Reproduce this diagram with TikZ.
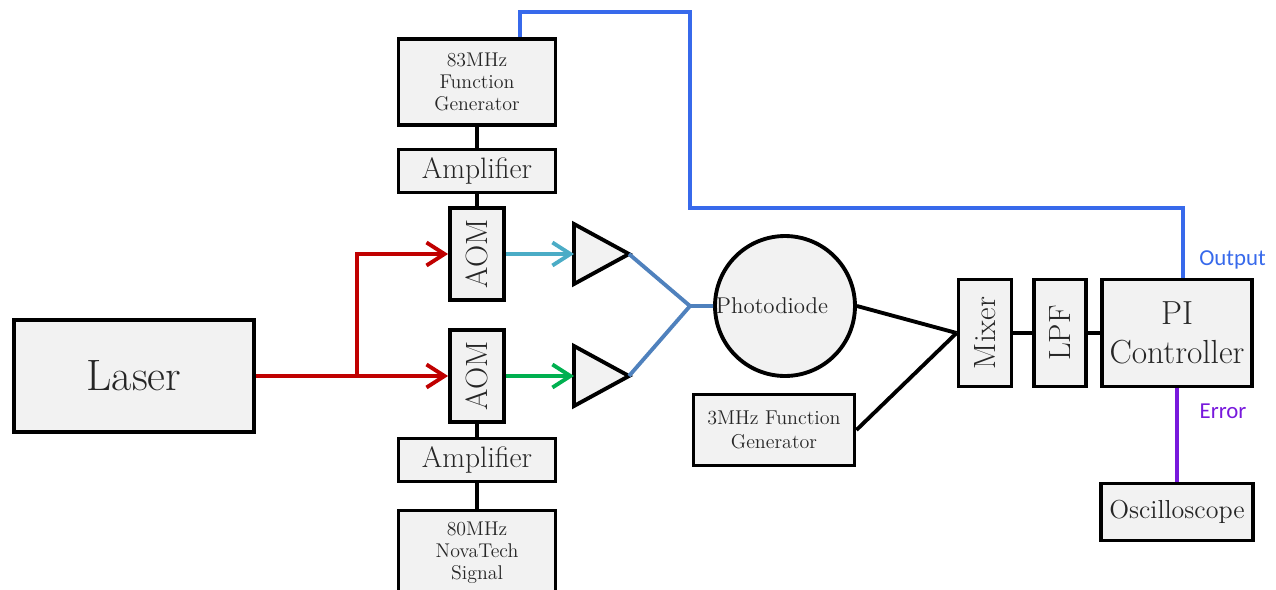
\documentclass[tikz,border=0pt]{standalone}
\usepackage{fontspec}
\newfontfamily\labelfont{Carlito}
\usetikzlibrary{arrows.meta,shapes.geometric,shadows,positioning}

\definecolor{beamred}{RGB}{192,0,0}
\definecolor{beamcyan}{RGB}{75,172,198}
\definecolor{beamgreen}{RGB}{0,176,80}
\definecolor{steel}{RGB}{79,129,189}
\definecolor{outblue}{RGB}{55,105,235}
\definecolor{errpurple}{RGB}{120,25,220}
\definecolor{boxfill}{RGB}{242,242,242}

\begin{document}
\begin{tikzpicture}[x=0.02cm,y=-0.02cm]
        \tikzstyle{box}=[draw=black,line width=2.2pt,fill=boxfill,inner sep=1pt,align=center,text=black!85,
          drop shadow={opacity=0.2,shadow xshift=0.6pt,shadow yshift=-0.6pt}]
        \tikzstyle{wire}=[line width=2.2pt]
        \tikzstyle{beam}=[line width=2.2pt,-{Straight Barb[length=0.36cm,width=0.46cm,line width=2.2pt]}]
        \tikzstyle{tri}=[isosceles triangle,isosceles triangle stretches,draw=black,line width=2.2pt,fill=boxfill,
          minimum width=1.2cm,minimum height=1.1cm,inner sep=0pt,outer sep=0pt]
        \useasboundingbox (0,0) rectangle (1276,589);
        % left column
        \node[box,minimum width=4.8cm,minimum height=2.24cm,font=\fontsize{25}{28}\selectfont] (laser) at (134,376) {Laser};
        \node[box,minimum width=3.14cm,minimum height=1.72cm,font=\fontsize{11.3}{12.6}\selectfont] (fg83) at (477,82) {83MHz\\Function\\Generator};
        \node[box,minimum width=3.14cm,minimum height=0.86cm,font=\fontsize{16.8}{19}\selectfont] (ampt) at (477,171) {Amplifier};
        \node[box,minimum width=1.08cm,minimum height=1.84cm,font=\fontsize{17.5}{20}\selectfont] (aomt) at (477,254) {\rotatebox{90}{AOM}};
        \node[box,minimum width=1.08cm,minimum height=1.84cm,font=\fontsize{17.5}{20}\selectfont] (aomb) at (477,376) {\rotatebox{90}{AOM}};
        \node[box,minimum width=3.14cm,minimum height=0.86cm,font=\fontsize{16.8}{19}\selectfont] (ampb) at (477,460) {Amplifier};
        \node[box,minimum width=3.14cm,minimum height=1.7cm,font=\fontsize{11.3}{12.6}\selectfont] (nova) at (477,553) {80MHz\\NovaTech\\Signal};
        % amplifiers and detector
        \node[tri,anchor=apex] (t1) at (629,254) {};
        \node[tri,anchor=apex] (t2) at (629,376) {};
        \node[box,circle,minimum size=2.8cm,inner sep=0pt] (pd) at (785,306)
          [label={[xshift=-0.26cm,font=\fontsize{13}{15}\selectfont,text=black!85]center:Photodiode}] {};
        \node[box,minimum width=3.22cm,minimum height=1.42cm,font=\fontsize{11.4}{13.8}\selectfont] (fg3) at (774,430) {3MHz Function\\Generator};
        % right side
        \node[box,minimum width=1.06cm,minimum height=2.14cm,font=\fontsize{17.5}{20}\selectfont] (mixer) at (985,333) {\rotatebox{90}{Mixer}};
        \node[box,minimum width=1.04cm,minimum height=2.14cm,font=\fontsize{17.5}{20}\selectfont] (lpf) at (1060,333) {\rotatebox{90}{LPF}};
        \node[box,minimum width=3cm,minimum height=2.14cm,font=\fontsize{19}{22}\selectfont] (pi) at (1177,333) {PI\\Controller};
        \node[box,minimum width=3.04cm,minimum height=1.14cm,font=\fontsize{14.8}{17}\selectfont] (osc) at (1177,512) {Oscilloscope};
        \node[font=\labelfont\fontsize{13}{15}\selectfont,text=outblue,anchor=west,inner sep=0pt] (outlbl) at (1199,260) {Output};
        \node[font=\labelfont\fontsize{13}{15}\selectfont,text=errpurple,inner sep=0pt] (errlbl) at (1223,411) {Error};
        \coordinate (split) at (357,376);
        \coordinate (pdjoin) at (690,306);
        \coordinate (o1) at (520,12);
        \coordinate (o2) at (690,12);
        \coordinate (o3) at (690,208);
        \coordinate (o4) at (1183,208);
        % rf chain
        \draw[wire] (fg83) -- (ampt);
        \draw[wire] (ampt.south) -- (aomt.north);
        \draw[wire] (aomb.south) -- (ampb.north);
        \draw[wire] (ampb) -- (nova);
        % beams
        \draw[beam,beamred] (laser.east) -- (aomb.west);
        \draw[beam,beamred] (split) |- (aomt.west);
        \draw[beam,beamcyan] (aomt.east) -- (t1.west);
        \draw[beam,beamgreen] (aomb.east) -- (t2.west);
        \draw[wire,steel] (t1.apex) -- (pdjoin) -- (pd.west);
        \draw[wire,steel] (t2.apex) -- (pdjoin);
        % signal
        \draw[wire] (pd.east) -- (mixer.west);
        \draw[wire] (fg3.east) -- (mixer.west);
        \draw[wire] (mixer) -- (lpf);
        \draw[wire] (lpf) -- (pi);
        \draw[wire,outblue] (fg83.north -| o1) -- (o1) -- (o2) -- (o3) -- (o4) -- (o4 |- pi.north);
        \draw[wire,errpurple] (pi.south) -- (osc.north);
\end{tikzpicture}
\end{document}
